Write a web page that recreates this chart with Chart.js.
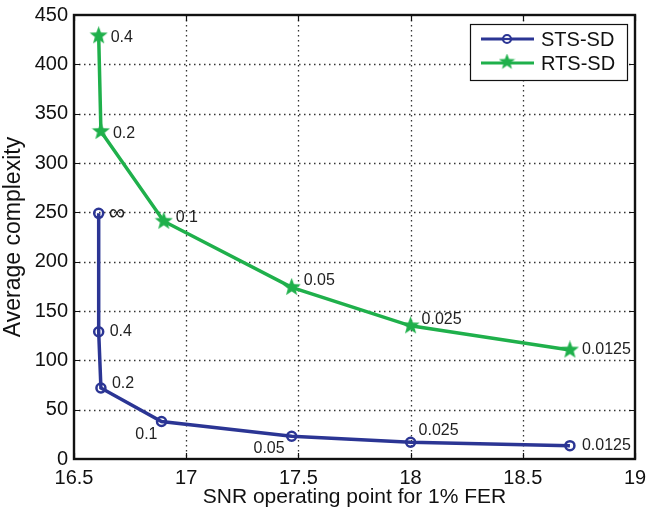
<!DOCTYPE html>
<html>
<head>
<meta charset="utf-8">
<script src="https://cdn.jsdelivr.net/npm/chart.js@4"></script>
<style>
  html, body { margin: 0; background: #fff; }
  #wrap { width: 648px; height: 510px; }
</style>
</head>
<body>
<div id="wrap"><canvas id="chart"></canvas></div>
<script>
// values
const stsSnr = [16.61, 16.61, 16.62, 16.89, 17.47, 18.0, 18.71];
const stsComplexity = [249, 129, 72, 38, 23, 17, 13.5];
const stsLabels = ['\u221E', '0.4', '0.2', '0.1', '0.05', '0.025', '0.0125'];

const rtsSnr = [16.61, 16.62, 16.9, 17.47, 18.0, 18.71];
const rtsComplexity = [429, 332, 241, 174, 135, 110.5];
const rtsLabels = ['0.4', '0.2', '0.1', '0.05', '0.025', '0.0125'];

const xTicks = [16.5, 17, 17.5, 18, 18.5, 19];
const yTicks = [0, 50, 100, 150, 200, 250, 300, 350, 400, 450];

const FONT = '"Liberation Sans", Arial, Helvetica, sans-serif';
const BLUE = '#2B3594';
const GREEN = '#1FB04B';

// where each point label sits relative to its marker: [dx, dy, align]
const stsLabelPos = [[10, 0, 'left'], [11, 0, 'left'], [11, -4, 'left'], [-4, 13, 'right'],
                     [-7, 12, 'right'], [8, -12, 'left'], [12, 0, 'left']];
const rtsLabelPos = [[12, 2, 'left'], [12, 2, 'left'], [12, -4, 'left'], [12, -7, 'left'],
                     [11, -6, 'left'], [12, 0, 'left']];

function makeStar(size, color) {
  const c = document.createElement('canvas');
  c.width = c.height = size;
  const g = c.getContext('2d');
  const R = size / 2, r = R * 0.42;
  g.beginPath();
  for (let i = 0; i < 10; i++) {
    const a = -Math.PI / 2 + i * Math.PI / 5;
    const rr = i % 2 ? r : R;
    g.lineTo(R + rr * Math.cos(a), R + rr * Math.sin(a));
  }
  g.closePath();
  g.fillStyle = color;
  g.fill();
  return c;
}
const star = makeStar(19, GREEN);
const smallStar = makeStar(17, GREEN);

const matlabLook = {
  id: 'matlabLook',
  beforeDatasetsDraw(chart) {
    // dotted grid
    const ctx = chart.ctx;
    const a = chart.chartArea;
    const xs = chart.scales.x, ys = chart.scales.y;
    ctx.save();
    ctx.strokeStyle = '#333';
    ctx.lineWidth = 1.3;
    ctx.setLineDash([1.5, 3.5]);
    ctx.beginPath();
    xTicks.slice(1, -1).forEach(v => {
      const px = Math.round(xs.getPixelForValue(v)) + 0.5;
      ctx.moveTo(px, a.top); ctx.lineTo(px, a.bottom);
    });
    yTicks.slice(1, -1).forEach(v => {
      const py = Math.round(ys.getPixelForValue(v)) + 0.5;
      ctx.moveTo(a.left, py); ctx.lineTo(a.right, py);
    });
    ctx.stroke();
    ctx.restore();
  },
  afterDatasetsDraw(chart) {
    const ctx = chart.ctx;
    ctx.save();
    ctx.fillStyle = '#222';
    ctx.textBaseline = 'middle';
    const sets = [[stsLabels, stsLabelPos], [rtsLabels, rtsLabelPos]];
    sets.forEach(([labels, pos], di) => {
      const meta = chart.getDatasetMeta(di);
      meta.data.forEach((pt, i) => {
        ctx.font = (labels[i] === '\u221E' ? '23px ' : '16px ') + FONT;
        ctx.textAlign = pos[i][2];
        ctx.fillText(labels[i], pt.x + pos[i][0], pt.y + pos[i][1]);
      });
    });
    ctx.restore();
  },
  afterDraw(chart) {
    const ctx = chart.ctx;
    const a = chart.chartArea;
    const xs = chart.scales.x, ys = chart.scales.y;
    ctx.save();
    // inward tick marks
    ctx.strokeStyle = '#111';
    ctx.lineWidth = 1.2;
    ctx.beginPath();
    xTicks.forEach(v => {
      const px = Math.round(xs.getPixelForValue(v)) + 0.5;
      ctx.moveTo(px, a.bottom); ctx.lineTo(px, a.bottom - 6);
      ctx.moveTo(px, a.top); ctx.lineTo(px, a.top + 6);
    });
    yTicks.forEach(v => {
      const py = Math.round(ys.getPixelForValue(v)) + 0.5;
      ctx.moveTo(a.left, py); ctx.lineTo(a.left + 6, py);
      ctx.moveTo(a.right, py); ctx.lineTo(a.right - 6, py);
    });
    ctx.stroke();
    // frame
    ctx.lineWidth = 2.4;
    ctx.strokeStyle = '#111';
    ctx.strokeRect(a.left, a.top, a.right - a.left, a.bottom - a.top);

    // legend box
    const lx = 470, ly = 24, lw = 157, lh = 56;
    ctx.fillStyle = '#fff';
    ctx.fillRect(lx, ly, lw, lh);
    ctx.lineWidth = 1.2;
    ctx.strokeRect(lx + 0.5, ly + 0.5, lw, lh);
    const rows = [[chart.data.datasets[0], 39], [chart.data.datasets[1], 63]];
    rows.forEach(([ds, y], i) => {
      ctx.strokeStyle = ds.borderColor;
      ctx.lineWidth = 3;
      ctx.beginPath();
      ctx.moveTo(481, y); ctx.lineTo(534, y);
      ctx.stroke();
      if (i === 0) {
        ctx.lineWidth = 2.2;
        ctx.fillStyle = '#fff';
        ctx.beginPath();
        ctx.arc(507, y, 4, 0, Math.PI * 2);
        ctx.fill();
        ctx.stroke();
        ctx.beginPath();
        ctx.moveTo(503, y); ctx.lineTo(511, y);
        ctx.stroke();
      } else {
        ctx.drawImage(smallStar, 507 - 8.5, y - 9.5);
      }
      ctx.fillStyle = '#111';
      ctx.font = '20px ' + FONT;
      ctx.textAlign = 'left';
      ctx.textBaseline = 'middle';
      ctx.fillText(ds.label, 541, y + 1);
    });
    ctx.restore();
  }
};

new Chart(document.getElementById('chart'), {
  type: 'line',
  data: {
    datasets: [{
      label: 'STS-SD',
      data: stsSnr.map((x, i) => ({ x, y: stsComplexity[i] })),
      borderColor: BLUE,
      backgroundColor: 'rgba(0,0,0,0)',
      borderWidth: 3.5,
      pointStyle: 'circle',
      pointRadius: 4.5,
      pointBorderWidth: 2.5,
      pointBorderColor: BLUE,
      pointBackgroundColor: 'rgba(0,0,0,0)',
      tension: 0
    }, {
      label: 'RTS-SD',
      data: rtsSnr.map((x, i) => ({ x, y: rtsComplexity[i] })),
      borderColor: GREEN,
      backgroundColor: GREEN,
      borderWidth: 3.5,
      pointStyle: star,
      pointRadius: 9,
      tension: 0
    }]
  },
  plugins: [matlabLook],
  options: {
    responsive: true,
    maintainAspectRatio: false,
    animation: false,
    layout: { padding: { left: 0, right: 13, top: 15, bottom: 0 } },
    plugins: {
      legend: { display: false },
      tooltip: { enabled: false }
    },
    scales: {
      x: {
        type: 'linear',
        min: 16.5,
        max: 19,
        afterFit: s => { s.height = 51; s.paddingLeft = 0; s.paddingRight = 0; },
        afterBuildTicks: s => { s.ticks = xTicks.map(v => ({ value: v })); },
        ticks: {
          padding: 7,
          color: '#111',
          font: { family: FONT, size: 20 },
          callback: v => String(v)
        },
        grid: { display: false, drawTicks: false },
        border: { display: false },
        title: {
          display: true,
          text: 'SNR operating point for 1% FER',
          color: '#111',
          font: { family: FONT, size: 21 },
          padding: { top: 0, bottom: 0 }
        }
      },
      y: {
        min: 0,
        max: 450,
        afterFit: s => { s.width = 74; s.paddingTop = 0; s.paddingBottom = 0; },
        afterBuildTicks: s => { s.ticks = yTicks.map(v => ({ value: v })); },
        ticks: {
          padding: 6,
          color: '#111',
          font: { family: FONT, size: 20 }
        },
        grid: { display: false, drawTicks: false },
        border: { display: false },
        title: {
          display: true,
          text: 'Average complexity',
          color: '#111',
          font: { family: FONT, size: 23 },
          padding: { top: 0, bottom: 0 }
        }
      }
    }
  }
});
</script>
</body>
</html>
